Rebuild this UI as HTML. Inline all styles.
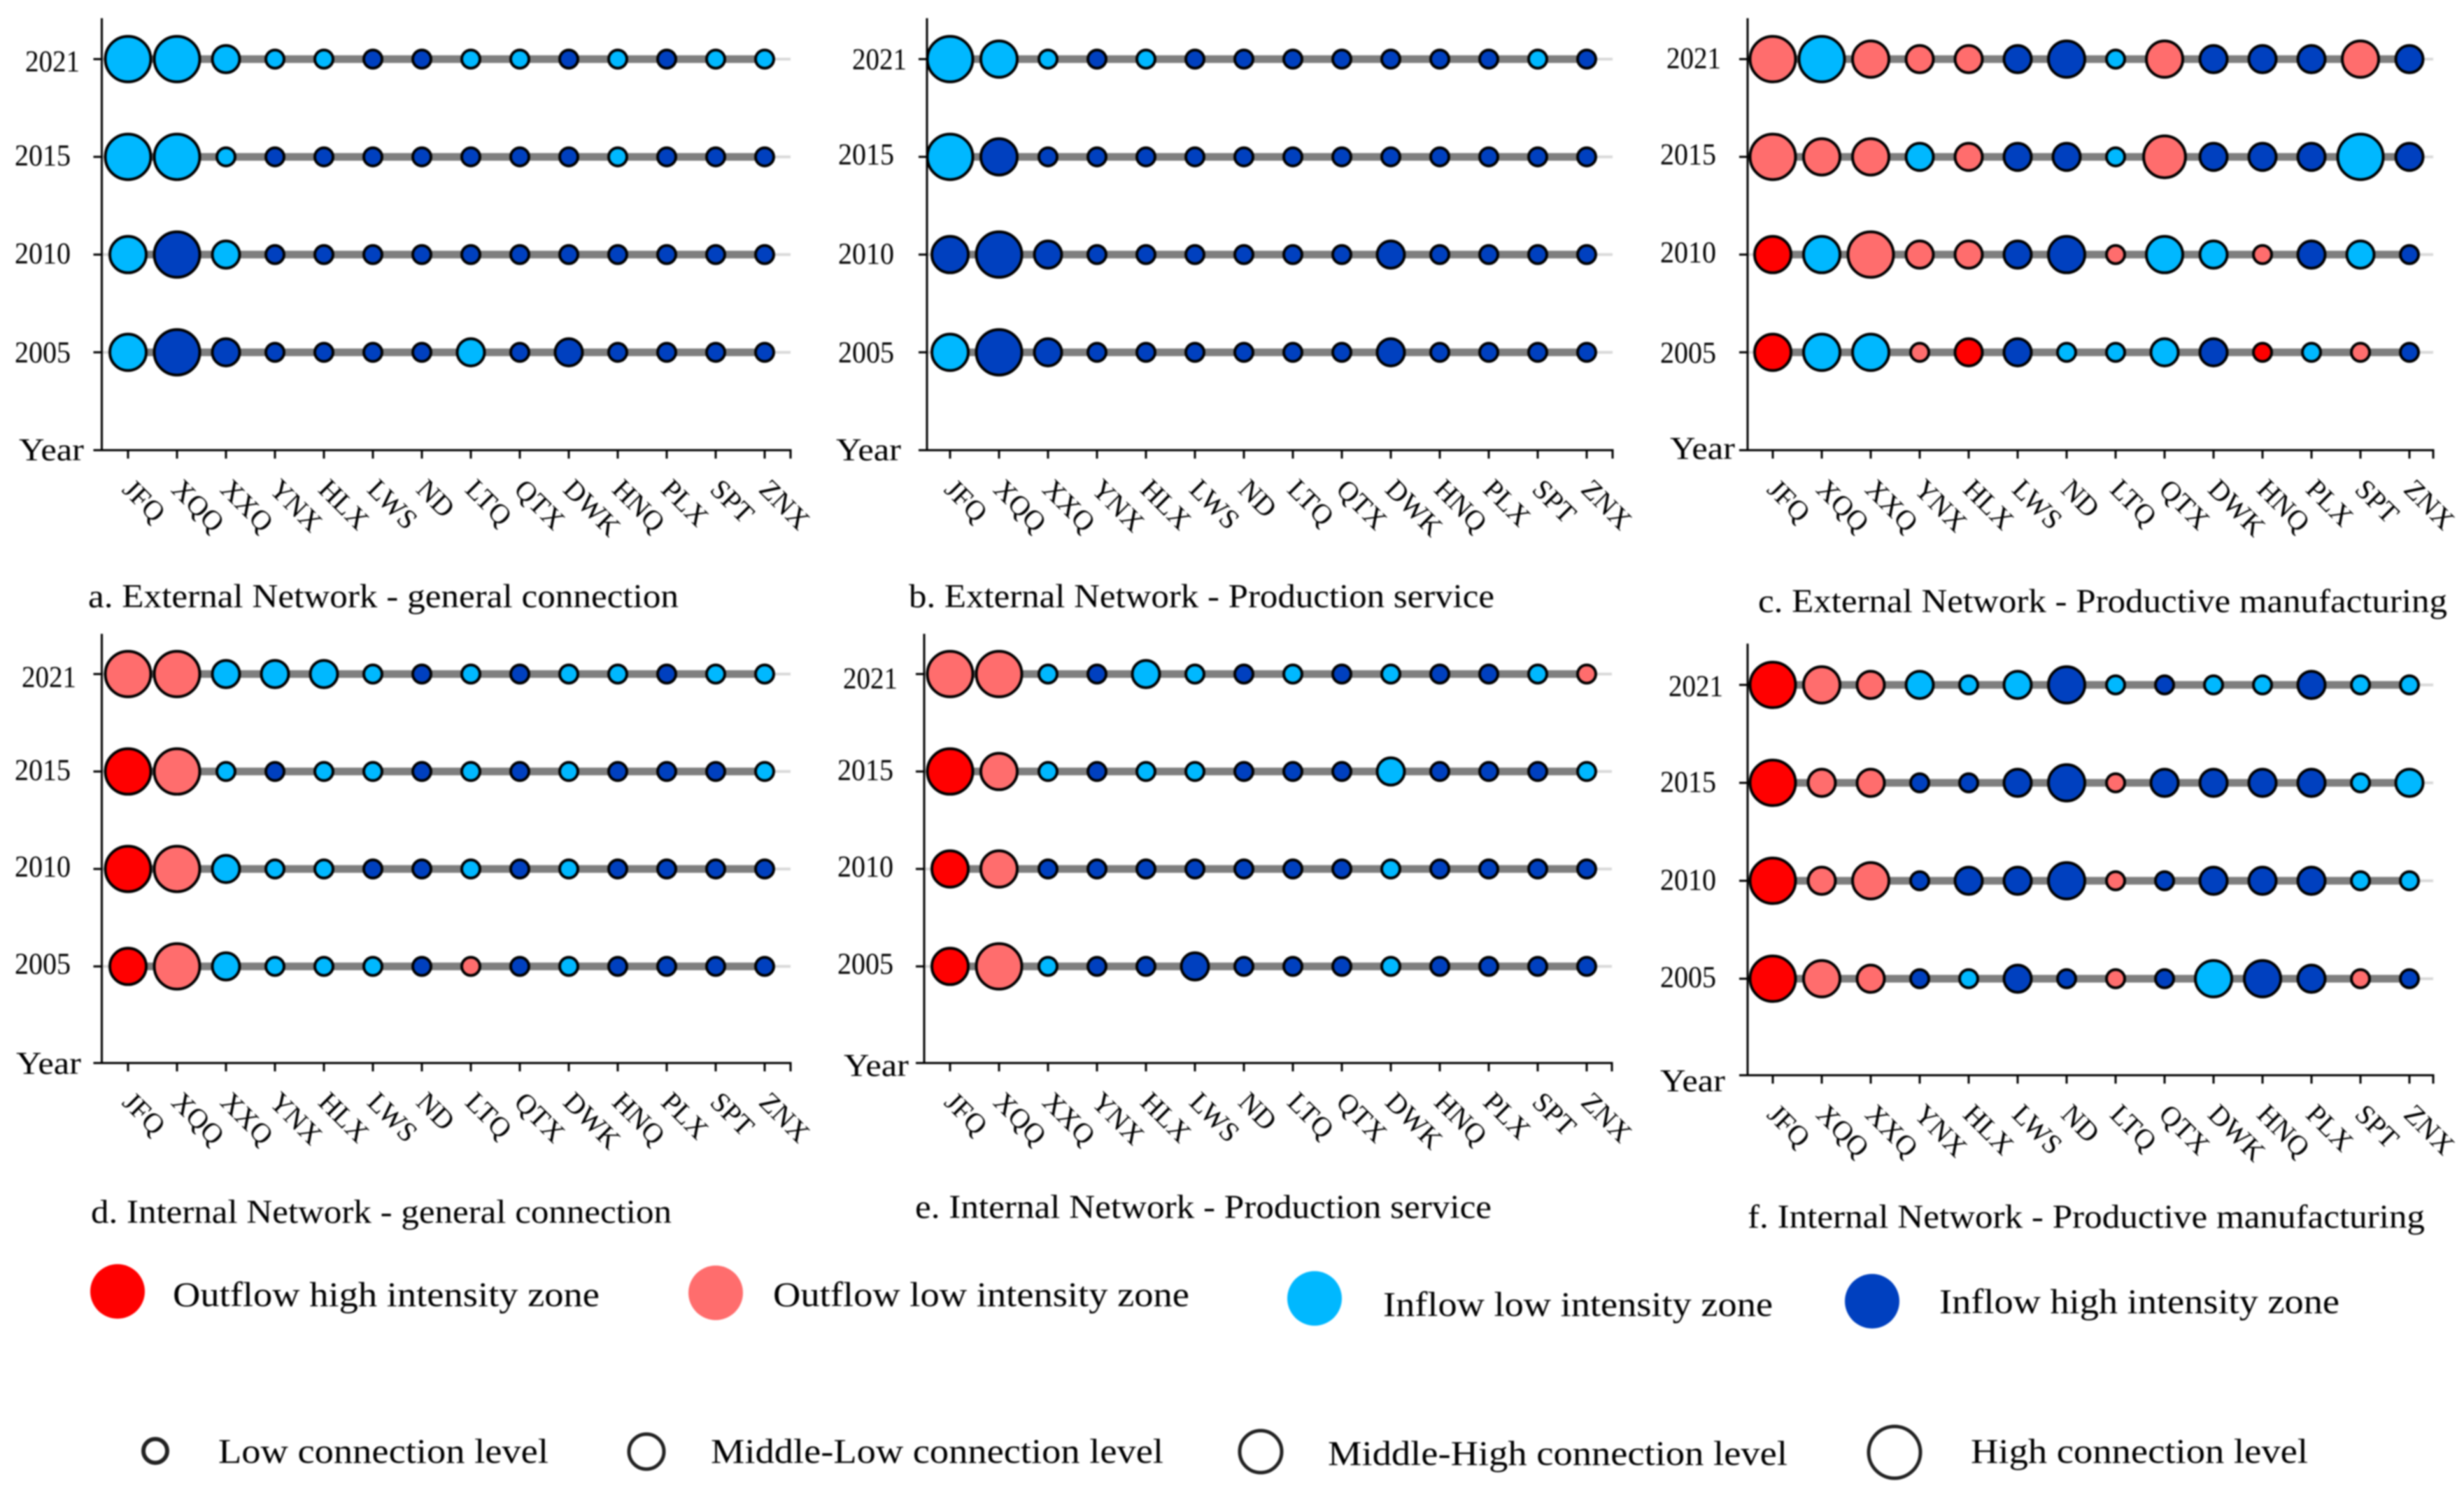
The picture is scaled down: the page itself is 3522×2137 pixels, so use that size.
<!DOCTYPE html>
<html lang="en">
<head>
<meta charset="utf-8">
<title>Network connection levels by zone, 2005-2021</title>
<style>
html,body{margin:0;padding:0;background:#fff;}
svg{display:block;filter:blur(1.1px);}
text{font-family:"Liberation Serif",serif;fill:#000;}
.caption{font-size:48px;}
.legend-text{font-size:50px;}
</style>
</head>
<body>
<svg id="figure" xmlns="http://www.w3.org/2000/svg" width="3522" height="2137" viewBox="0 0 3522 2137">
<rect x="0" y="0" width="3522" height="2137" fill="#fff"/>

<g id="panel-a"></g>
<g id="panel-b"></g>
<g id="panel-c"></g>
<g id="panel-d"></g>
<g id="panel-e"></g>
<g id="panel-f"></g>

<text class="caption" x="126" y="868" textLength="844" lengthAdjust="spacingAndGlyphs">a. External Network - general connection</text>
<text class="caption" x="1299" y="868" textLength="837" lengthAdjust="spacingAndGlyphs">b. External Network - Production service</text>
<text class="caption" x="2513" y="875" textLength="985" lengthAdjust="spacingAndGlyphs">c. External Network - Productive manufacturing</text>
<text class="caption" x="130" y="1748" textLength="830" lengthAdjust="spacingAndGlyphs">d. Internal Network - general connection</text>
<text class="caption" x="1308" y="1741" textLength="824" lengthAdjust="spacingAndGlyphs">e. Internal Network - Production service</text>
<text class="caption" x="2498" y="1755" textLength="968" lengthAdjust="spacingAndGlyphs">f. Internal Network - Productive manufacturing</text>

<g>
  <circle cx="168" cy="1846" r="39" fill="#FF0000"/>
  <text class="legend-text" x="247" y="1867" textLength="610" lengthAdjust="spacingAndGlyphs">Outflow high intensity zone</text>
  <circle cx="1023" cy="1848" r="39" fill="#FF6D6D"/>
  <text class="legend-text" x="1105" y="1867" textLength="595" lengthAdjust="spacingAndGlyphs">Outflow low intensity zone</text>
  <circle cx="1879" cy="1856" r="39" fill="#00B8FF"/>
  <text class="legend-text" x="1977" y="1881" textLength="557" lengthAdjust="spacingAndGlyphs">Inflow low intensity zone</text>
  <circle cx="2676" cy="1860" r="39" fill="#0040BF"/>
  <text class="legend-text" x="2772" y="1877" textLength="572" lengthAdjust="spacingAndGlyphs">Inflow high intensity zone</text>
</g>

<g>
  <circle cx="222" cy="2074" r="17" fill="#fff" stroke="#222" stroke-width="6"/>
  <text class="legend-text" x="312" y="2091" textLength="472" lengthAdjust="spacingAndGlyphs">Low connection level</text>
  <circle cx="924" cy="2075" r="25" fill="#fff" stroke="#222" stroke-width="5"/>
  <text class="legend-text" x="1016" y="2091" textLength="647" lengthAdjust="spacingAndGlyphs">Middle-Low connection level</text>
  <circle cx="1802" cy="2075" r="30" fill="#fff" stroke="#222" stroke-width="5"/>
  <text class="legend-text" x="1898" y="2094" textLength="657" lengthAdjust="spacingAndGlyphs">Middle-High connection level</text>
  <circle cx="2708" cy="2076" r="37" fill="#fff" stroke="#222" stroke-width="5"/>
  <text class="legend-text" x="2817" y="2091" textLength="482" lengthAdjust="spacingAndGlyphs">High connection level</text>
</g>
</svg>

<script>
// Categories and tick labels
const cities = ['JFQ','XQQ','XXQ','YNX','HLX','LWS','ND','LTQ','QTX','DWK','HNQ','PLX','SPT','ZNX'];
const years = ['2021','2015','2010','2005'];

// Connection level of each city (1 low ... 4 high), one row per year
const levelsA = [
  [4,4,2,1,1,1,1,1,1,1,1,1,1,1],
  [4,4,1,1,1,1,1,1,1,1,1,1,1,1],
  [3,4,2,1,1,1,1,1,1,1,1,1,1,1],
  [3,4,2,1,1,1,1,2,1,2,1,1,1,1]
];
const levelsB = [
  [4,3,1,1,1,1,1,1,1,1,1,1,1,1],
  [4,3,1,1,1,1,1,1,1,1,1,1,1,1],
  [3,4,2,1,1,1,1,1,1,2,1,1,1,1],
  [3,4,2,1,1,1,1,1,1,2,1,1,1,1]
];
const levelsC = [
  [4,4,3,2,2,2,3,1,3,2,2,2,3,2],
  [4,3,3,2,2,2,2,1,3.6,2,2,2,4,2],
  [3,3,4,2,2,2,3,1,3,2,1,2,2,1],
  [3,3,3,1,2,2,1,1,2,2,1,1,1,1]
];
const levelsD = [
  [4,4,2,2,2,1,1,1,1,1,1,1,1,1],
  [4,4,1,1,1,1,1,1,1,1,1,1,1,1],
  [4,4,2,1,1,1,1,1,1,1,1,1,1,1],
  [3,4,2,1,1,1,1,1,1,1,1,1,1,1]
];
const levelsE = [
  [4,4,1,1,2,1,1,1,1,1,1,1,1,1],
  [4,3,1,1,1,1,1,1,1,2,1,1,1,1],
  [3,3,1,1,1,1,1,1,1,1,1,1,1,1],
  [3,4,1,1,1,2,1,1,1,1,1,1,1,1]
];
const levelsF = [
  [4,3,2,2,1,2,3,1,1,1,1,2,1,1],
  [4,2,2,1,1,2,3,1,2,2,2,2,1,2],
  [4,2,3,1,2,2,3,1,1,2,2,2,1,1],
  [4,3,2,1,1,2,1,1,1,3,3,2,1,1]
];

// Zone of each city: 0 outflow high, 1 outflow low, 2 inflow low, 3 inflow high
const zonesA = [
  [2,2,2,2,2,3,3,2,2,3,2,3,2,2],
  [2,2,2,3,3,3,3,3,3,3,2,3,3,3],
  [2,3,2,3,3,3,3,3,3,3,3,3,3,3],
  [2,3,3,3,3,3,3,2,3,3,3,3,3,3]
];
const zonesB = [
  [2,2,2,3,2,3,3,3,3,3,3,3,2,3],
  [2,3,3,3,3,3,3,3,3,3,3,3,3,3],
  [3,3,3,3,3,3,3,3,3,3,3,3,3,3],
  [2,3,3,3,3,3,3,3,3,3,3,3,3,3]
];
const zonesC = [
  [1,2,1,1,1,3,3,2,1,3,3,3,1,3],
  [1,1,1,2,1,3,3,2,1,3,3,3,2,3],
  [0,2,1,1,1,3,3,1,2,2,1,3,2,3],
  [0,2,2,1,0,3,2,2,2,3,0,2,1,3]
];
const zonesD = [
  [1,1,2,2,2,2,3,2,3,2,2,3,2,2],
  [0,1,2,3,2,2,3,2,3,2,3,3,3,2],
  [0,1,2,2,2,3,3,2,3,2,3,3,3,3],
  [0,1,2,2,2,2,3,1,3,2,3,3,3,3]
];
const zonesE = [
  [1,1,2,3,2,2,3,2,3,2,3,3,2,1],
  [0,1,2,3,2,2,3,3,3,2,3,3,3,2],
  [0,1,3,3,3,3,3,3,3,2,3,3,3,3],
  [0,1,2,3,3,3,3,3,3,2,3,3,3,3]
];
const zonesF = [
  [0,1,1,2,2,2,3,2,3,2,2,3,2,2],
  [0,1,1,3,3,3,3,1,3,3,3,3,2,2],
  [0,1,1,3,3,3,3,1,3,3,3,3,2,2],
  [0,1,1,3,2,3,3,1,3,2,3,3,1,3]
];

const zoneColor = z => ['#FF0000','#FF6D6D','#00B8FF','#0040BF'][z];
const radiusOf = level => 8.5 + 6.5 * level;   // outer radius in px

const SVG_NS = 'http://www.w3.org/2000/svg';
function make(parent, tag, attrs, text) {
  const el = document.createElementNS(SVG_NS, tag);
  for (const k in attrs) el.setAttribute(k, attrs[k]);
  if (text !== undefined) el.textContent = text;
  parent.appendChild(el);
  return el;
}

function drawPanel(id, levels, zones, L) {
  const g = document.getElementById(id);
  const xPos = i => L.cx0 + L.dx * i;
  const yPos = j => L.y0 + L.dy * j;

  years.forEach((year, j) => {
    const y = yPos(j);
    const grid = make(g, 'line', {x1: L.axisX, x2: L.right, y1: y, y2: y, stroke: '#D9D9D9', 'stroke-width': 4});
    
    

    const band = make(g, 'line', {x1: xPos(0), x2: xPos(cities.length - 1), y1: y, y2: y, stroke: '#7F7F7F', 'stroke-width': 11});
    
    

    const tick = make(g, 'line', {x1: L.axisX - 12, x2: L.axisX, y1: y, y2: y, stroke: '#000', 'stroke-width': 3});
    
    

    const label = make(g, 'text', {
      x: j === 0 ? L.x2021 : L.xOther,
      y: y + L.labelDy[j],
      'font-size': 43,
      textLength: j === 0 ? 78 : 80,
      lengthAdjust: 'spacingAndGlyphs'
    }, year);
    
    
  });

  const yAxis = make(g, 'line', {x1: L.axisX, x2: L.axisX, y1: L.top, y2: L.bottom + 1.5, stroke: '#000', 'stroke-width': 3});
  
  

  const xAxis = make(g, 'line', {x1: L.axisX - 12, x2: L.right + 1.5, y1: L.bottom, y2: L.bottom, stroke: '#000', 'stroke-width': 3});
  
  

  const endTick = make(g, 'line', {x1: L.right, x2: L.right, y1: L.bottom, y2: L.bottom + 12, stroke: '#000', 'stroke-width': 3});
  
  

  const yearTitle = make(g, 'text', {x: L.yearX, y: L.yearY, 'font-size': 46, textLength: 93, lengthAdjust: 'spacingAndGlyphs'}, 'Year');
  
  

  cities.forEach((city, i) => {
    const x = xPos(i);
    const tick = make(g, 'line', {x1: x, x2: x, y1: L.bottom, y2: L.bottom + 12, stroke: '#000', 'stroke-width': 3});
    
    

    const lx = x - 10, ly = L.bottom + 58;
    const label = make(g, 'text', {x: lx, y: ly, 'font-size': 40, transform: 'rotate(45 ' + lx + ' ' + ly + ')'}, city);
    
    
  });

  years.forEach((year, j) => {
    cities.forEach((city, i) => {
      const bubble = make(g, 'circle', {
        cx: xPos(i),
        cy: yPos(j),
        r: radiusOf(levels[j][i]) - 2,
        fill: zoneColor(zones[j][i]),
        stroke: '#000',
        'stroke-width': 4
      });
      
      
    });
  });
}

drawPanel('panel-a', levelsA, zonesA, {axisX:145.5, right:1130, top:26, bottom:643.5, cx0:183, dx:70, y0:84.5, dy:139.7,
  x2021:36, xOther:21, labelDy:[17.5,12.5,12.5,14.5], yearX:27, yearY:658});
drawPanel('panel-b', levelsB, zonesB, {axisX:1325, right:2305, top:26, bottom:643.5, cx0:1358, dx:70, y0:84.5, dy:139.7,
  x2021:1218, xOther:1198, labelDy:[14.5,11,13,14.5], yearX:1195, yearY:658});
drawPanel('panel-c', levelsC, zonesC, {axisX:2498, right:3478, top:26, bottom:643.5, cx0:2534, dx:70, y0:84.5, dy:139.7,
  x2021:2382, xOther:2373, labelDy:[13,11,11,15], yearX:2387, yearY:656});
drawPanel('panel-d', levelsD, zonesD, {axisX:145.5, right:1130, top:906, bottom:1519.5, cx0:183, dx:70, y0:963.5, dy:139.3,
  x2021:31, xOther:21, labelDy:[18.5,12.2,11,10.6], yearX:23, yearY:1535});
drawPanel('panel-e', levelsE, zonesE, {axisX:1321, right:2304, top:906, bottom:1519.5, cx0:1358, dx:70, y0:963.5, dy:139.3,
  x2021:1205, xOther:1197, labelDy:[20.5,12.2,11,10.6], yearX:1206, yearY:1538});
drawPanel('panel-f', levelsF, zonesF, {axisX:2498, right:3478, top:920, bottom:1537, cx0:2534, dx:70, y0:979, dy:140,
  x2021:2385, xOther:2373, labelDy:[16,13,13,12], yearX:2373, yearY:1560});
</script>
</body>
</html>
